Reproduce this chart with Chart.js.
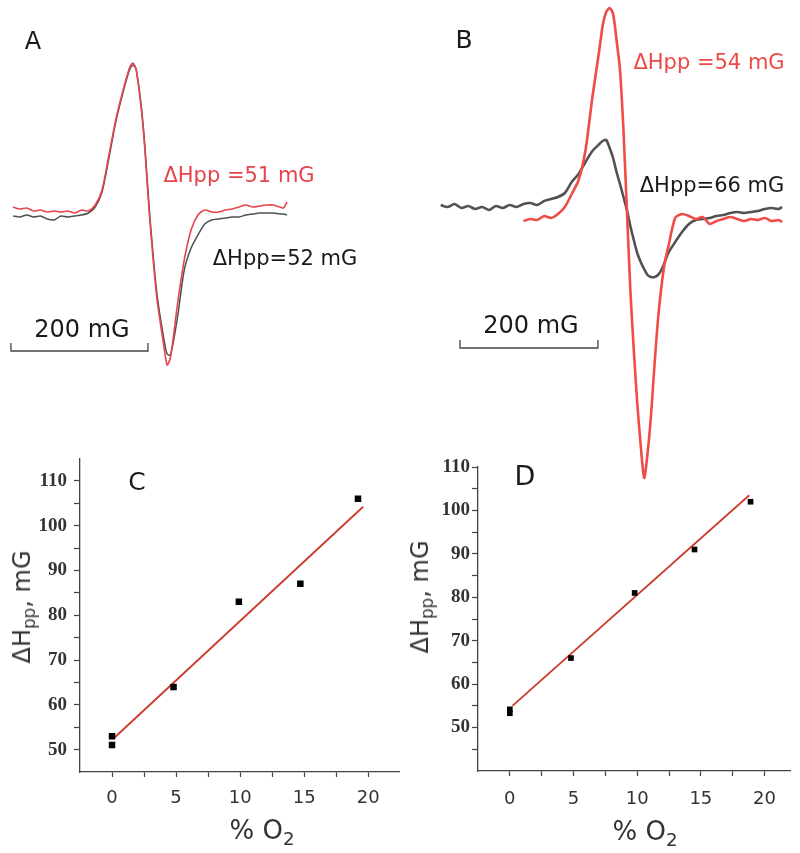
<!DOCTYPE html>
<html>
<head>
<meta charset="utf-8">
<script src="https://cdn.jsdelivr.net/npm/chart.js@4.4.1/dist/chart.umd.min.js"></script>
<style>
html,body{margin:0;padding:0;background:#fff;}
#wrap{position:relative;width:800px;height:853px;overflow:hidden;font-family:"DejaVu Sans",sans-serif;color:#1a1a1a;}
canvas{position:absolute;}
.t{position:absolute;white-space:nowrap;line-height:1;transform:translate(-50%,-50%);}
.v{position:absolute;white-space:nowrap;line-height:1;transform:translate(-50%,-50%) rotate(-90deg);}
sub{font-size:70%;vertical-align:baseline;position:relative;top:0.32em;}
</style>
</head>
<body>
<div id="wrap">
  <canvas id="cA" width="400" height="440" style="left:0;top:0"></canvas>
  <canvas id="cB" width="400" height="490" style="left:400px;top:0"></canvas>
  <canvas id="cC" width="410" height="413" style="left:0;top:440px"></canvas>
  <canvas id="cD" width="400" height="413" style="left:400px;top:440px"></canvas>

  <div class="t" style="left:33px;top:41px;font-size:24px">A</div>
  <div class="t" style="left:464px;top:39px;font-size:25px">B</div>
  <div class="t" style="left:137px;top:481px;font-size:25px">C</div>
  <div class="t" style="left:525px;top:475px;font-size:27px">D</div>

  <div class="t" style="left:239px;top:175px;font-size:21px;color:#e6434c">ΔHpp =51 mG</div>
  <div class="t" style="left:285px;top:258px;font-size:21px">ΔHpp=52 mG</div>
  <div class="t" style="left:709px;top:62px;font-size:21px;color:#ee4a45">ΔHpp =54 mG</div>
  <div class="t" style="left:712px;top:185px;font-size:21px">ΔHpp=66 mG</div>

  <div class="t" style="left:82px;top:329px;font-size:24px">200 mG</div>
  <div class="t" style="left:531px;top:325px;font-size:24px">200 mG</div>

  <div class="v" style="left:22px;top:607px;font-size:24px;color:#333">ΔH<sub>pp</sub>, mG</div>
  <div class="v" style="left:420px;top:597px;font-size:24px;color:#333">ΔH<sub>pp</sub>, mG</div>
  <div class="t" style="left:262px;top:830px;font-size:26px;color:#333">% O<sub>2</sub></div>
  <div class="t" style="left:645px;top:831px;font-size:26px;color:#333">% O<sub>2</sub></div>
</div>

<script>
// ---------- Panel A : EPR spectra (field offset in mG, amplitude in a.u.) ----------
const aField = [-200,-190,-180,-170,-160,-150,-140,-130,-120,-110,-100,-90,-80,-70,-60,-50,-40,-30,-25,-20,-10,0,10,20,25,30,40,50,60,70,80,90,100,110,120,130,140,150,160,170,180,190,195,200];
const aRed   = [3,1,2,-1,0,-2,-1,-2,-1,-3,0,-1,5,20,55,90,118,142,147,140,82,-12,-88,-135,-155,-147,-95,-50,-20,-5,0,-2,-2,0,1,3,5,3,4,5,5,3,2,8];
const aGray  = [-6,-7,-5,-7,-6,-9,-10,-6,-7,-6,-5,-3,3,18,52,88,116,140,145,140,85,-8,-83,-128,-144,-145,-108,-60,-38,-25,-14,-10,-9,-8,-7,-7,-5,-4,-3,-3,-3,-4,-4,-5];
const aBarX  = [-203,-203,-3,-3];
const aBarY  = [-133,-141,-141,-133];

// ---------- Panel B ----------
const bField = [-270,-260,-250,-240,-230,-220,-210,-200,-190,-180,-170,-160,-150,-140,-130,-120,-110,-100,-90,-80,-70,-60,-50,-40,
                -35,-30,-25,-20,-15,-10,-5,0,5,10,15,20,25,30,35,40,45,50,55,60,
                70,80,90,100,110,120,130,140,150,160,170,180,190,200,210,220,225];
const bGray  = [5,3,6,2,4,1,3,0,4,2,5,3,6,7,5,9,11,13,17,28,36,48,59,66,
                69,70,62,52,38,26,13,0,-16,-30,-43,-52,-59,-65,-67,-67,-65,-60,-52,-43,
                -32,-22,-14,-10,-9,-8,-6,-5,-3,-2,-3,-2,-1,1,2,1,3];
const bRed   = [null,null,null,null,null,null,null,null,null,null,null,null,-11,-9,-10,-6,-8,-4,3,16,30,60,113,160,
                185,198,202,196,170,140,80,0,-80,-140,-193,-235,-268,-243,-205,-155,-110,-77,-52,-37,
                -8,-4,-6,-9,-7,-14,-11,-9,-7,-9,-11,-9,-10,-8,-11,-10,-12];
const bBarX  = [-242,-242,-42,-42];
const bBarY  = [-130,-138,-138,-130];

// ---------- Panel C : linewidth vs % O2 ----------
const cO2   = [0, 0, 4.8, 9.9, 14.7, 19.2];
const cHpp  = [53, 51, 64, 83, 87, 106];
const cFitX = [0.2, 19.6];
const cFitY = [52.7, 104.2];

// ---------- Panel D ----------
const dO2   = [0, 0, 4.8, 9.8, 14.5, 18.9];
const dHpp  = [54.2, 53.3, 66, 81, 91, 102];
const dFitX = [0.2, 18.8];
const dFitY = [55, 103.5];

const pts = (xs, ys) => xs.map((x, i) => ({x: x, y: ys[i]}));

function spectrum(id, series, bar, xr, yr) {
  const ds = series.map(s => ({
    data: pts(s.x, s.y), borderColor: s.color, borderWidth: s.w,
    pointRadius: 0, tension: 0.25, spanGaps: false, fill: false
  }));
  ds.push({data: pts(bar.x, bar.y), borderColor: '#444', borderWidth: 1.3, pointRadius: 0, tension: 0, fill: false});
  return new Chart(document.getElementById(id), {
    type: 'line',
    data: {datasets: ds},
    options: {
      responsive: false, animation: false, devicePixelRatio: 1,
      layout: {padding: 0},
      plugins: {legend: {display: false}, tooltip: {enabled: false}},
      scales: {
        x: {type: 'linear', display: false, min: xr[0], max: xr[1]},
        y: {type: 'linear', display: false, min: yr[0], max: yr[1]}
      }
    }
  });
}

spectrum('cA', [
  {x: aField, y: aRed,  color: '#e8444e', w: 1.6},
  {x: aField, y: aGray, color: '#4b5252', w: 1.5}
], {x: aBarX, y: aBarY}, [-219, 365], [-230, 210]);

spectrum('cB', [
  {x: bField, y: bRed,  color: '#f04b46', w: 2.6},
  {x: bField, y: bGray, color: '#525252', w: 2.6}
], {x: bBarX, y: bBarY}, [-329, 251], [-280, 210]);

function scatterPanel(id, o) {
  const hideEdge = v => (v === o.ymin || v === -2.5 || (v === o.ymax && v % 10 !== 0));
  return new Chart(document.getElementById(id), {
    type: 'scatter',
    data: {datasets: [
      {data: pts(o.xs, o.ys), pointStyle: 'rect', pointRadius: o.r, backgroundColor: '#000', borderColor: '#000', borderWidth: 0, order: 1},
      {data: pts(o.fx, o.fy), showLine: true, borderColor: '#cc3b2a', borderWidth: 1.8, pointRadius: 0, order: 2}
    ]},
    options: {
      responsive: false, animation: false, devicePixelRatio: 1,
      layout: {padding: o.pad},
      plugins: {legend: {display: false}, tooltip: {enabled: false}},
      scales: {
        x: {
          type: 'linear', min: -2.5, max: o.xmax,
          border: {color: '#444', width: 1.3},
          grid: {drawOnChartArea: false, tickLength: 5, tickWidth: 1.2,
                 tickColor: c => (c.tick && c.tick.value === -2.5 ? 'rgba(0,0,0,0)' : '#444')},
          ticks: {stepSize: 2.5, includeBounds: false, autoSkip: false, maxRotation: 0, padding: o.xpad,
                  color: '#333', font: {family: '"DejaVu Sans"', size: 18},
                  callback: v => (v % 5 === 0 ? v : '')},
          afterFit: s => { s.height = o.xh; }
        },
        y: {
          type: 'linear', min: o.ymin, max: o.ymax,
          border: {color: '#444', width: 1.3},
          grid: {drawOnChartArea: false, tickLength: 6, tickWidth: 1.2,
                 tickColor: c => (c.tick && hideEdge(c.tick.value) ? 'rgba(0,0,0,0)' : '#444')},
          ticks: {stepSize: 5, includeBounds: false, autoSkip: false, padding: o.ypad,
                  color: '#333', font: {family: '"Liberation Serif"', size: 19, weight: 'bold'},
                  callback: v => (v % 10 === 0 && v !== o.ymin ? v : '')},
          afterFit: s => { s.width = o.yw; }
        }
      }
    }
  });
}

scatterPanel('cC', {xs: cO2, ys: cHpp, fx: cFitX, fy: cFitY, r: 4.6, xmax: 22.4, ymin: 45, ymax: 115,
  pad: {left: 0, right: 11, top: 17, bottom: 0}, xh: 81, yw: 80, xpad: 11, ypad: 7});
scatterPanel('cD', {xs: dO2, ys: dHpp, fx: dFitX, fy: dFitY, r: 4.0, xmax: 22, ymin: 40, ymax: 110,
  pad: {left: 0, right: 10, top: 27, bottom: 0}, xh: 82, yw: 78, xpad: 13, ypad: 2});
</script>
</body>
</html>
